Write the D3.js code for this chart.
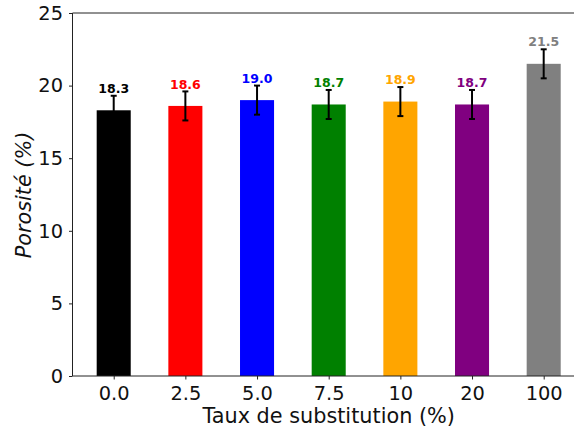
<!DOCTYPE html>
<html><head><meta charset="utf-8">
<script src="https://cdn.jsdelivr.net/npm/d3@7"></script>
<style>html,body{margin:0;padding:0;background:#fff;overflow:hidden}svg{display:block}</style>
</head><body>
<script>
const categories = ["0.0","2.5","5.0","7.5","10","20","100"];
const values = [18.3, 18.6, 19.0, 18.7, 18.9, 18.7, 21.5];
const errors = [1.0, 1.0, 1.0, 1.0, 1.0, 1.0, 1.0];
const colors = ["#000000","#ff0000","#0000ff","#008000","#ffa500","#800080","#808080"];
const yTicks = [0,5,10,15,20,25];

(function(){
const W = 574, H = 432;
const mLeft = 72.5, mTop = 13, mBottom = 376, plotW = 512.4;
const svg = d3.select("body").append("svg").attr("width", W).attr("height", H)
  .style("font-family", "'DejaVu Sans', sans-serif");

const x = d3.scaleLinear().domain([-0.575, 6.575]).range([mLeft, mLeft + plotW]);
const y = d3.scaleLinear().domain([0, 25]).range([mBottom, mTop]);
const bw = x(0.475) - x(0);

svg.selectAll("rect.bar").data(values).enter().append("rect").attr("class","bar")
  .attr("x", (d,i) => x(i) - bw/2).attr("width", bw)
  .attr("y", d => y(d)).attr("height", d => y(0) - y(d))
  .attr("fill", (d,i) => colors[i]);

const eg = svg.append("g").attr("stroke", "#000").attr("stroke-width", 2);
values.forEach((v,i) => {
  const cx = x(i);
  eg.append("line").attr("x1", cx).attr("x2", cx).attr("y1", y(v - errors[i])).attr("y2", y(v + errors[i]));
  eg.append("line").attr("x1", cx-3).attr("x2", cx+3).attr("y1", y(v - errors[i])).attr("y2", y(v - errors[i]));
  eg.append("line").attr("x1", cx-3).attr("x2", cx+3).attr("y1", y(v + errors[i])).attr("y2", y(v + errors[i]));
});

svg.selectAll("text.val").data(values).enter().append("text").attr("class","val")
  .attr("x", (d,i) => x(i)).attr("y", (d,i) => y(d + errors[i] + 0.2))
  .attr("text-anchor", "middle").attr("font-size", 12.5).attr("font-weight", "bold")
  .attr("fill", (d,i) => colors[i]).text(d => d.toFixed(1));

const yAxis = d3.axisLeft(y).tickValues(yTicks).tickSize(3.5).tickPadding(6).tickFormat(d3.format("d"));
const gy = svg.append("g").attr("transform", `translate(${mLeft},0)`).call(yAxis);
const xAxis = d3.axisBottom(x).tickValues(d3.range(categories.length)).tickSize(3.5).tickPadding(7)
  .tickFormat(i => categories[i]);
const gx = svg.append("g").attr("transform", `translate(0,${mBottom})`).call(xAxis);
[gx, gy].forEach(g => {
  g.select(".domain").remove();
  g.selectAll("line").attr("stroke", "#222");
  g.selectAll("text").attr("font-size", 19.4).attr("fill", "#111").style("font-family", "'DejaVu Sans', sans-serif");
});
const fr = svg.append("g").attr("stroke", "#222").attr("stroke-width", 1);
fr.append("line").attr("x1", mLeft).attr("x2", mLeft + plotW).attr("y1", mTop).attr("y2", mTop);
fr.append("line").attr("x1", mLeft).attr("x2", mLeft + plotW).attr("y1", mBottom).attr("y2", mBottom);
fr.append("line").attr("x1", mLeft).attr("x2", mLeft).attr("y1", mTop).attr("y2", mBottom);

svg.append("text").attr("x", 328.7).attr("y", 423).attr("text-anchor", "middle")
  .attr("font-size", 20.8).attr("fill", "#111").text("Taux de substitution (%)");
svg.append("text").attr("transform", "translate(30.5,195) rotate(-90)").attr("text-anchor", "middle")
  .attr("font-size", 20.8).attr("font-style", "italic").attr("fill", "#111").text("Porosité (%)");
})();
</script>
</body></html>
